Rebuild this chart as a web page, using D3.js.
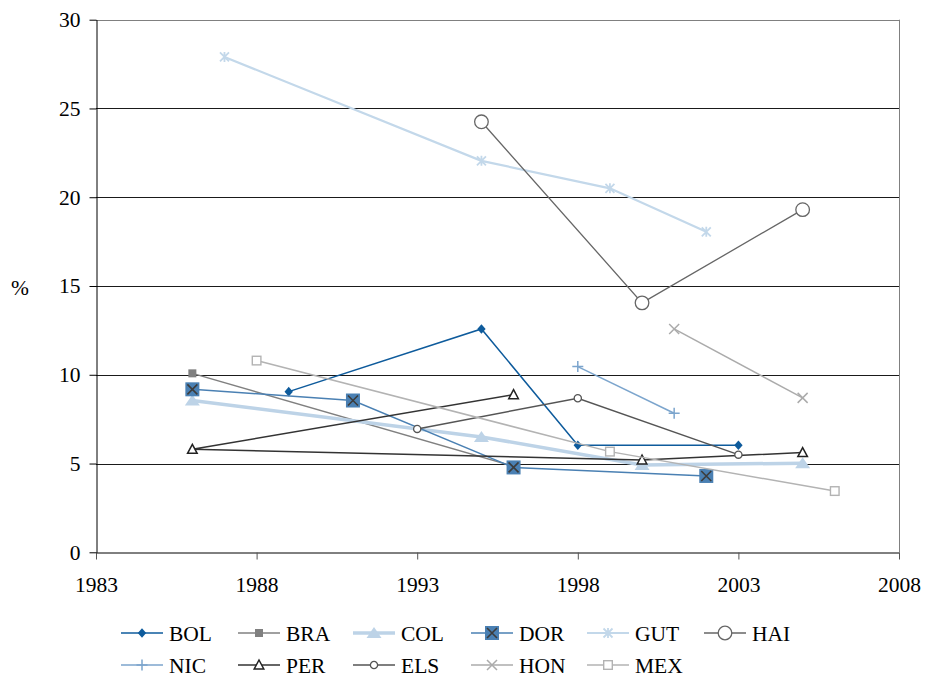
<!DOCTYPE html>
<html><head><meta charset="utf-8">
<script src="https://cdn.jsdelivr.net/npm/d3@7/dist/d3.min.js"></script>
<style>body{margin:0;background:#fff}svg{display:block}</style>
</head><body><svg id="c" width="925" height="679"></svg>
<script>
// ---- data ----
const seriesNames = ["BOL","BRA","COL","DOR","GUT","HAI","NIC","PER","ELS","HON","MEX"];
const years_BOL = [1989,1995,1998,2003];      const vals_BOL = [9.05,12.58,6.03,6.03];
const years_BRA = [1986,1996];                const vals_BRA = [10.08,4.85];
const years_COL = [1986,1995,2000,2005];      const vals_COL = [8.55,6.5,4.92,5.02];
const years_DOR = [1986,1991,1996,2002];      const vals_DOR = [9.18,8.55,4.78,4.3];
const years_GUT = [1987,1995,1999,2002];      const vals_GUT = [27.9,22.05,20.5,18.05];
const years_HAI = [1995,2000,2005];           const vals_HAI = [24.25,14.05,19.3];
const years_NIC = [1998,2001];                const vals_NIC = [10.46,7.83];
const years_PER = [1996,1986,2000,2005];      const vals_PER = [8.88,5.8,5.2,5.62];
const years_ELS = [1993,1998,2003];           const vals_ELS = [6.95,8.68,5.5];
const years_HON = [2001,2005];                const vals_HON = [12.58,8.7];
const years_MEX = [1988,1999,2006];           const vals_MEX = [10.8,5.67,3.45];
const xTicks = [1983,1988,1993,1998,2003,2008];
const yTicks = [0,5,10,15,20,25,30];

const dataYears = {BOL:years_BOL,BRA:years_BRA,COL:years_COL,DOR:years_DOR,GUT:years_GUT,HAI:years_HAI,NIC:years_NIC,PER:years_PER,ELS:years_ELS,HON:years_HON,MEX:years_MEX};
const dataVals  = {BOL:vals_BOL,BRA:vals_BRA,COL:vals_COL,DOR:vals_DOR,GUT:vals_GUT,HAI:vals_HAI,NIC:vals_NIC,PER:vals_PER,ELS:vals_ELS,HON:vals_HON,MEX:vals_MEX};

// ---- styles ----
const FONT = "'Liberation Serif', Tinos, 'Times New Roman', serif";
const FS = "21.5px";
const styles = {
  BOL:{line:"#0e5b9c", w:1.5, m:"diamond"},
  BRA:{line:"#808080", w:1.5, m:"fsquare"},
  COL:{line:"#bdd3e7", w:3.5, m:"btriangle"},
  DOR:{line:"#4a80b3", w:1.5, m:"dor"},
  GUT:{line:"#c3d8ea", w:2.2, m:"asterisk"},
  HAI:{line:"#666666", w:1.3, m:"bcircle"},
  NIC:{line:"#7ca5cd", w:1.5, m:"plus"},
  PER:{line:"#333333", w:1.5, m:"otriangle"},
  ELS:{line:"#555555", w:1.5, m:"scircle"},
  HON:{line:"#ababab", w:1.5, m:"cross"},
  MEX:{line:"#b3b3b3", w:1.5, m:"osquare"}
};

const svg = d3.select("#c");
const L = 96, R = 899, T = 19.7, B = 552.3;
const x = d3.scaleLinear().domain([1983,2008]).range([L,R]);
const y = d3.scaleLinear().domain([0,30]).range([B,T]);

function styleText(sel){ sel.style("font-family",FONT).style("font-size",FS).style("fill","#000"); }

// gridlines
svg.append("g").selectAll("line").data(yTicks.filter(v=>v>0)).join("line")
  .attr("x1",L).attr("x2",R).attr("y1",d=>Math.round(y(d))+0.5).attr("y2",d=>Math.round(y(d))+0.5)
  .attr("stroke",d=>d===30?"#808080":"#1a1a1a").attr("stroke-width",1);
// right border
svg.append("line").attr("x1",R+0.5).attr("x2",R+0.5).attr("y1",y(30)).attr("y2",B).attr("stroke","#808080");

// axes
const xAxis = d3.axisBottom(x).tickValues(xTicks).tickFormat(d3.format("d")).tickSizeInner(7).tickSizeOuter(0).tickPadding(17);
const gx = svg.append("g").attr("transform",`translate(0,${Math.round(B)+0.5})`).call(xAxis);
gx.select(".domain").attr("stroke","#000");
gx.selectAll(".tick line").attr("stroke","#555");
styleText(gx.selectAll("text"));

const yAxis = d3.axisLeft(y).tickValues(yTicks).tickSizeInner(7).tickSizeOuter(0).tickPadding(9);
const gy = svg.append("g").attr("transform",`translate(${L+0.5},0)`).call(yAxis);
gy.select(".domain").attr("stroke","#000");
gy.selectAll(".tick line").attr("stroke","#000");
styleText(gy.selectAll("text"));

styleText(svg.append("text").attr("x",20).attr("y",287).attr("dy","0.35em").attr("text-anchor","middle").text("%"));

// marker drawing
function drawMarker(g, type, cx, cy, col){
  const s = g.append("g").attr("transform",`translate(${cx},${cy})`);
  switch(type){
    case "diamond":
      s.append("path").attr("d","M0,-4.8L4.2,0L0,4.8L-4.2,0Z").attr("fill",col); break;
    case "fsquare":
      s.append("rect").attr("x",-4).attr("y",-4).attr("width",8).attr("height",8).attr("fill",col); break;
    case "btriangle":
      s.append("path").attr("d","M0,-6L7.5,5L-7.5,5Z").attr("fill",col); break;
    case "dor":
      s.append("rect").attr("x",-7).attr("y",-7).attr("width",14).attr("height",14).attr("fill","#4a80b3");
      s.append("path").attr("d","M-5,-5L5,5M5,-5L-5,5").attr("stroke","#3c3c3c").attr("stroke-width",1.6); break;
    case "asterisk":
      s.append("path").attr("d","M-4.5,-4.5L4.5,4.5M4.5,-4.5L-4.5,4.5M0,-5L0,5").attr("stroke",col).attr("stroke-width",1.8); break;
    case "bcircle":
      s.append("circle").attr("r",6.8).attr("fill","#fff").attr("stroke",col).attr("stroke-width",1.3); break;
    case "plus":
      s.append("path").attr("d","M-5.5,0L5.5,0M0,-5.5L0,5.5").attr("stroke",col).attr("stroke-width",1.5); break;
    case "otriangle":
      s.append("path").attr("d","M0,-5L4.8,4L-4.8,4Z").attr("fill","#fff").attr("stroke","#222").attr("stroke-width",1.5); break;
    case "scircle":
      s.append("circle").attr("r",3.6).attr("fill","#fff").attr("stroke",col).attr("stroke-width",1.3); break;
    case "cross":
      s.append("path").attr("d","M-5,-5L5,5M5,-5L-5,5").attr("stroke",col).attr("stroke-width",1.5); break;
    case "osquare":
      s.append("rect").attr("x",-4.3).attr("y",-4.3).attr("width",8.6).attr("height",8.6).attr("fill","#fff").attr("stroke",col).attr("stroke-width",1.4); break;
  }
}

const lineGen = d3.line().x(d=>x(d[0])).y(d=>y(d[1]));
const plot = svg.append("g");
seriesNames.forEach(name=>{
  const st = styles[name];
  const pts = dataYears[name].map((yr,i)=>[yr, dataVals[name][i]]);
  const g = plot.append("g");
  g.append("path").attr("d",lineGen(pts)).attr("fill","none").attr("stroke",st.line).attr("stroke-width",st.w);
  pts.forEach(p=>drawMarker(g, st.m, x(p[0]), y(p[1]), st.line));
});

// legend
const legCols = [121,238,353,471,587,704];
const legRows = [633,665];
seriesNames.forEach((name,i)=>{
  const st = styles[name];
  const lx = legCols[i%6], ly = legRows[Math.floor(i/6)];
  const g = svg.append("g");
  g.append("line").attr("x1",lx).attr("x2",lx+42).attr("y1",ly).attr("y2",ly).attr("stroke",st.line).attr("stroke-width",st.w);
  drawMarker(g, st.m, lx+21, ly, st.line);
  styleText(g.append("text").attr("x",lx+48).attr("y",ly).attr("dy","0.35em").text(name));
});
</script></body></html>
